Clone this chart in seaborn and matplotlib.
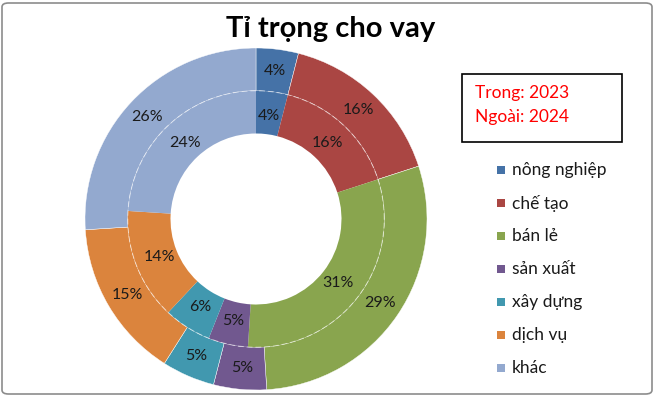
import matplotlib
matplotlib.use("Agg")
import matplotlib.pyplot as plt
import seaborn as sns
from matplotlib.patches import FancyBboxPatch, Rectangle
import numpy as np

sns.set_theme(style="white")
plt.rcParams['font.family'] = ['Lato', 'DejaVu Sans']

categories = ["nông nghiệp", "chế tạo", "bán lẻ", "sản xuất", "xây dựng", "dịch vụ", "khác"]
inner_2023 = [4, 16, 31, 5, 6, 14, 24]
outer_2024 = [4, 16, 29, 5, 5, 15, 26]
title = "Tỉ trọng cho vay"
note_lines = ["Trong: 2023", "Ngoài: 2024"]

colors = sns.color_palette(["#4572A7", "#AA4643", "#89A54E", "#71588F",
                            "#4198AF", "#DB843D", "#93A9CF"])

W, H = 655, 396
fig = plt.figure(figsize=(W / 100, H / 100), dpi=100)

# border
fig.patches.append(FancyBboxPatch((2 / W, 2 / H), (W - 5) / W, (H - 5) / H,
                                  boxstyle="round,pad=0,rounding_size=0.01",
                                  transform=fig.transFigure, fill=False,
                                  edgecolor="#8c8c8c", linewidth=1.2))

cx, cy, R = 256, 219, 171
ax = fig.add_axes([(cx - R) / W, (H - cy - R) / H, 2 * R / W, 2 * R / H])
ax.set_axis_off()

wedge_kw = dict(width=0.25, edgecolor="white", linewidth=0.3)
ax.pie(outer_2024, radius=1.0, colors=colors, startangle=90, counterclock=False,
       wedgeprops=wedge_kw)
ax.pie(inner_2023, radius=0.75, colors=colors, startangle=90, counterclock=False,
       wedgeprops=dict(width=0.25, linewidth=0))
# dashed separator between rings
th = np.linspace(0, 2 * np.pi, 400)
ax.plot(0.75 * np.cos(th), 0.75 * np.sin(th), color="white", lw=0.7,
        ls=(0, (6, 3)), alpha=0.55)


def put_labels(vals, r):
    total = sum(vals)
    start = 90.0
    for v in vals:
        ang = start - 360.0 * v / total / 2
        start -= 360.0 * v / total
        a = np.deg2rad(ang)
        ax.text(r * np.cos(a), r * np.sin(a), f"{v}%", ha="center", va="center",
                fontsize=11.5, color="#1a1a1a")


put_labels(outer_2024, 0.875)
put_labels(inner_2023, 0.61)
ax.set_xlim(-1.0, 1.0)
ax.set_ylim(-1.0, 1.0)

fig.text(331 / W, 1 - 29 / H, title, ha="center", va="center",
         fontsize=21, fontweight="bold", color="black")

# note box
fig.patches.append(Rectangle((462 / W, 1 - 142 / H), 160 / W, 68 / H,
                             transform=fig.transFigure, fill=False,
                             edgecolor="black", linewidth=1.2))
fig.text(475 / W, 1 - 93 / H, note_lines[0], ha="left", va="center", fontsize=12.5, color="#ff0000")
fig.text(475 / W, 1 - 117 / H, note_lines[1], ha="left", va="center", fontsize=12.5, color="#ff0000")

# legend
for i, (lab, c) in enumerate(zip(categories, colors)):
    y = 1 - (170 + 33 * i) / H
    fig.patches.append(Rectangle((497 / W, y - 4 / H), 8 / W, 8 / H,
                                 transform=fig.transFigure, facecolor=c, edgecolor="none"))
    fig.text(512 / W, y, lab, ha="left", va="center", fontsize=12.5, color="#1a1a1a")

fig.savefig("out.png", dpi=100)
